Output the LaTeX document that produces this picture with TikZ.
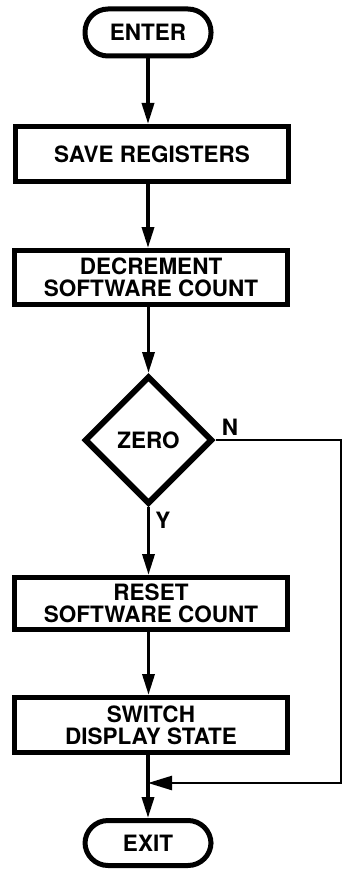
\documentclass[tikz,border=0pt]{standalone}
\usepackage{fontspec}
\setmainfont{TeX Gyre Heros}
\usetikzlibrary{arrows.meta,shapes.geometric}
\begin{document}
\begin{tikzpicture}[x=1pt,y=-1pt,
 every node/.style={font=\fontsize{22.5}{22}\selectfont\bfseries, align=center, inner sep=0pt},
 procbox/.style={draw, line width=5pt, minimum width=273pt, minimum height=55pt},
 termbox/.style={draw, line width=5pt, rounded corners=23pt, minimum width=126pt, minimum height=47pt},
 decbox/.style={draw, diamond, line width=6pt, minimum width=128pt, minimum height=128pt},
 flow/.style={line width=3.5pt, -{Triangle[length=21pt,width=12pt]}},
 loopline/.style={line width=2.5pt, -{Triangle[length=24pt,width=14pt]}}]
\useasboundingbox (0,0) rectangle (345,872);
\node[termbox] (enter) at (148,32.5) {ENTER};
\node[procbox] (save) at (152,154) {SAVE REGISTERS};
\node[procbox, minimum height=54pt] (dec) at (151,277.5) {DECREMENT\\SOFTWARE COUNT};
\node[decbox] (zero) at (148.5,440) {ZERO};
\node[procbox, minimum height=52pt] (reset) at (151,603.5) {RESET\\SOFTWARE COUNT};
\node[procbox] (switch) at (151,725) {SWITCH\\DISPLAY STATE};
\node[termbox, minimum height=45pt] (exit) at (148,843) {EXIT};
\node (nlab) at (230,427) {N};
\node (ylab) at (163,520) {Y};
\draw[flow] (enter.south) -- (enter.south |- save.north);
\draw[flow] (save.south -| enter.south) -- (enter.south |- dec.north);
\draw[flow] (dec.south -| zero.north) -- (zero.north);
\draw[flow] (zero.south) -- (zero.south |- reset.north);
\draw[flow] (reset.south -| zero.south) -- (zero.south |- switch.north);
\draw[flow] (switch.south -| exit.north) -- (exit.north);
\coordinate (c1) at (341,440);
\coordinate (c2) at (341,783);
\draw[loopline] (zero.east) -- (c1) -- (c2) -- (exit.north |- c2);
\end{tikzpicture}
\end{document}
